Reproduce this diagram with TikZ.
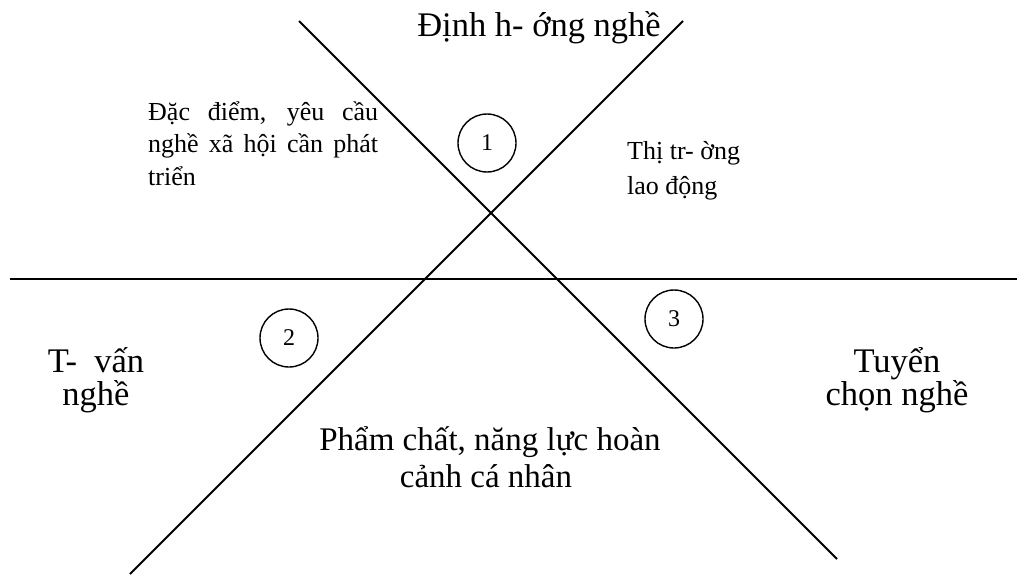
\documentclass[tikz,border=0pt]{standalone}
\usepackage{fontspec}
\setmainfont{Liberation Serif}
\begin{document}
\begin{tikzpicture}[x=1pt,y=-1pt,
  line/.style={line width=1.8pt},
  num/.style={circle,draw,line width=1.4pt,minimum size=58pt,inner sep=0pt,font=\fontsize{24}{28}\selectfont},
  big/.style={inner sep=0pt,font=\fontsize{34.5}{40}\selectfont},
  mid/.style={inner sep=0pt,font=\fontsize{33}{38}\selectfont},
  small/.style={inner sep=0pt,font=\fontsize{26}{30}\selectfont}]
\useasboundingbox (0,0) rectangle (1017,575);
% lines
\coordinate (a1) at (299,21);
\coordinate (a2) at (837,559);
\coordinate (b1) at (683,21);
\coordinate (b2) at (130,574);
\coordinate (h1) at (10,279);
\coordinate (h2) at (1017,279);
\draw[line] (a1) -- (a2);
\draw[line] (b1) -- (b2);
\draw[line] (h1) -- (h2);
% circles
\node[num] (c1) at (487,143) {1};
\node[num] (c2) at (289,338) {2};
\node[num] (c3) at (674,319) {3};
% texts
\node[big,anchor=base] (top) at (539,37) {Định h- ớng nghề};
\node[small,anchor=base west] (l1) at (148,121) {\makebox[230pt][s]{Đặc điểm, yêu cầu}};
\node[small,anchor=base west] (l2) at (148,153) {\makebox[230pt][s]{nghề xã hội cần phát}};
\node[small,anchor=base west] (l3) at (148,185) {triển};
\node[small,anchor=base west] (r1) at (627,160) {Thị tr- ờng};
\node[small,anchor=base west] (r2) at (627,194) {lao động};
\node[big,anchor=base] (t1) at (96,372) {T-\ \ vấn};
\node[big,anchor=base] (t2) at (96,405) {nghề};
\node[big,anchor=base] (u1) at (897,372) {Tuyển};
\node[big,anchor=base] (u2) at (897,405) {chọn nghề};
\node[mid,anchor=base] (p1) at (490,450) {Phẩm chất, năng lực hoàn};
\node[mid,anchor=base] (p2) at (486,487) {cảnh cá nhân};
\end{tikzpicture}
\end{document}
